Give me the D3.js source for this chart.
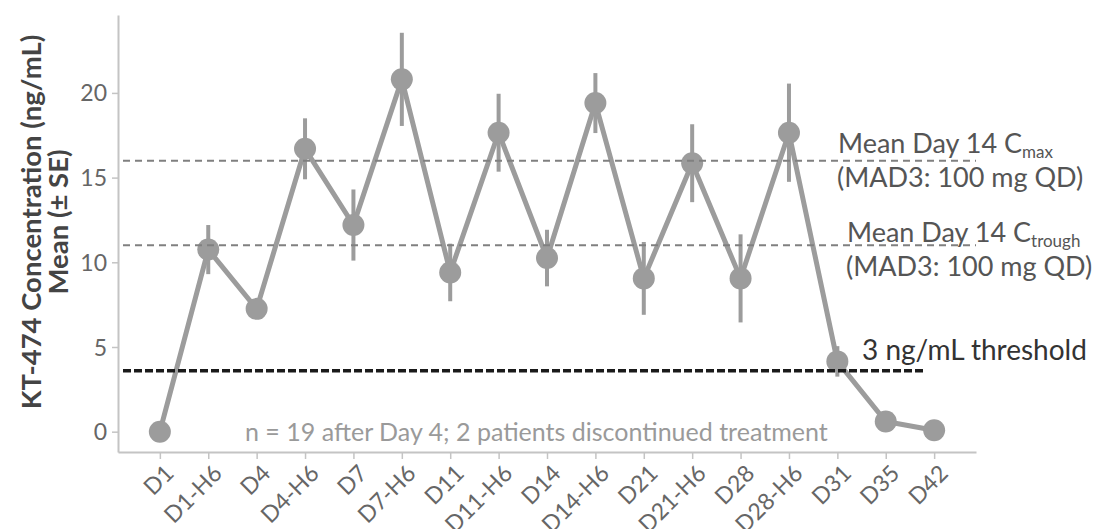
<!DOCTYPE html>
<html>
<head>
<meta charset="utf-8">
<script src="https://cdn.jsdelivr.net/npm/d3@7"></script>
<style>
  html, body { margin: 0; padding: 0; background: #fff; }
  svg { display: block; font-family: Lato, "Open Sans", sans-serif; }
</style>
</head>
<body>
<svg id="chart" width="1100" height="529"></svg>
<script>
const categories = ["D1","D1-H6","D4","D4-H6","D7","D7-H6","D11","D11-H6","D14","D14-H6","D21","D21-H6","D28","D28-H6","D31","D35","D42"];
const means = [0, 10.75, 7.25, 16.7, 12.2, 20.8, 9.4, 17.65, 10.25, 19.4, 9.05, 15.85, 9.05, 17.65, 4.15, 0.6, 0.08];
const se = [0, 1.45, 0.4, 1.8, 2.1, 2.75, 1.7, 2.3, 1.67, 1.77, 2.15, 2.3, 2.6, 2.9, 0.9, 0, 0];
const yTicks = [0, 5, 10, 15, 20];
const refLines = [
  {name: "Cmax", value: 16, sub: "max"},
  {name: "Ctrough", value: 11, sub: "trough"}
];
const thresholdValue = 3.6;

const svg = d3.select("#chart");
const margin = {left: 118, top: 15, right: 124, bottom: 77};
const W = 1100, H = 529;

const x = d3.scalePoint().domain(categories).range([margin.left, W - margin.right]).padding(0.865);
const y = d3.scaleLinear().domain([-1.2, 24.6]).range([H - margin.bottom, margin.top]);

const grey = "#9c9c9c";
const axisCol = "#c4c4c4";

// Axes
const yAxis = svg.append("g").attr("transform", `translate(${margin.left},0)`)
  .call(d3.axisLeft(y).tickValues(yTicks).tickSize(6).tickSizeOuter(0).tickPadding(5));
const xAxis = svg.append("g").attr("transform", `translate(0,${H - margin.bottom})`)
  .call(d3.axisBottom(x).tickSize(7).tickSizeOuter(0).tickPadding(4));
[yAxis, xAxis].forEach(g => {
  g.select(".domain").attr("stroke", axisCol).attr("stroke-width", 2);
  g.selectAll(".tick line").attr("stroke", axisCol).attr("stroke-width", 1.5);
  g.selectAll("text").attr("fill", "#666").style("font-family", "Lato").style("font-size", "23px");
});
xAxis.selectAll("text")
  .attr("text-anchor", "end")
  .attr("dy", null)
  .attr("transform", "translate(7,15) rotate(-45)");
yAxis.selectAll("text").attr("dy", "0.35em");

// Axis title
const title = svg.append("text")
  .attr("transform", `translate(0,222) rotate(-90)`)
  .attr("text-anchor", "middle")
  .attr("fill", "#444")
  .style("font-family", "Lato")
  .style("font-weight", "bold")
  .style("font-size", "27.5px");
title.append("tspan").attr("x", 0).attr("y", 41).text("KT-474 Concentration (ng/mL)");
title.append("tspan").attr("x", 0).attr("y", 68).text("Mean (± SE)");

// Line
const line = d3.line().x((d, i) => x(categories[i])).y(d => y(d));
svg.append("path").datum(means)
  .attr("d", line).attr("fill", "none").attr("stroke", grey).attr("stroke-width", 5)
  .attr("stroke-linejoin", "round");

// Error bars
svg.append("g").selectAll("line").data(means).join("line")
  .attr("x1", (d, i) => x(categories[i])).attr("x2", (d, i) => x(categories[i]))
  .attr("y1", (d, i) => y(d - se[i])).attr("y2", (d, i) => y(d + se[i]))
  .attr("stroke", grey).attr("stroke-width", 4);

// Dots
svg.append("g").selectAll("circle").data(means).join("circle")
  .attr("cx", (d, i) => x(categories[i])).attr("cy", d => y(d)).attr("r", 11)
  .attr("fill", grey);

// Reference lines
svg.append("g").selectAll("line").data(refLines).join("line")
  .attr("x1", margin.left + 5).attr("x2", W - margin.right)
  .attr("y1", d => y(d.value)).attr("y2", d => y(d.value))
  .attr("stroke", "#808080").attr("stroke-width", 2).attr("stroke-dasharray", "7,5");

svg.append("line")
  .attr("x1", margin.left + 5).attr("x2", 925)
  .attr("y1", y(thresholdValue)).attr("y2", y(thresholdValue))
  .attr("stroke", "#1a1a1a").attr("stroke-width", 3.5).attr("stroke-dasharray", "8,3");

// Annotations
const annX = [838, 847];
const annDy1 = [-8, -3];
const annDy2 = [26, 31];
refLines.forEach((r, k) => {
  const yy = y(r.value);
  const t = svg.append("text").attr("x", annX[k]).attr("y", yy + annDy1[k])
    .attr("fill", "#555").style("font-family", "Lato").style("font-size", "27px");
  t.append("tspan").text("Mean Day 14 C");
  t.append("tspan").attr("dy", 5).style("font-size", "17px").text(r.sub);
  svg.append("text").attr("x", annX[k] - 1).attr("y", yy + annDy2[k])
    .attr("fill", "#555").style("font-family", "Lato").style("font-size", "27px")
    .text("(MAD3: 100 mg QD)");
});

svg.append("text").attr("x", 862).attr("y", y(thresholdValue) - 11)
  .attr("fill", "#333").style("font-family", "Lato").style("font-size", "28px")
  .text("3 ng/mL threshold");

svg.append("text").attr("x", 245).attr("y", 441)
  .attr("fill", "#9a9a9a").style("font-family", "Lato").style("font-size", "25px")
  .text("n = 19 after Day 4; 2 patients discontinued treatment");
</script>
</body>
</html>
